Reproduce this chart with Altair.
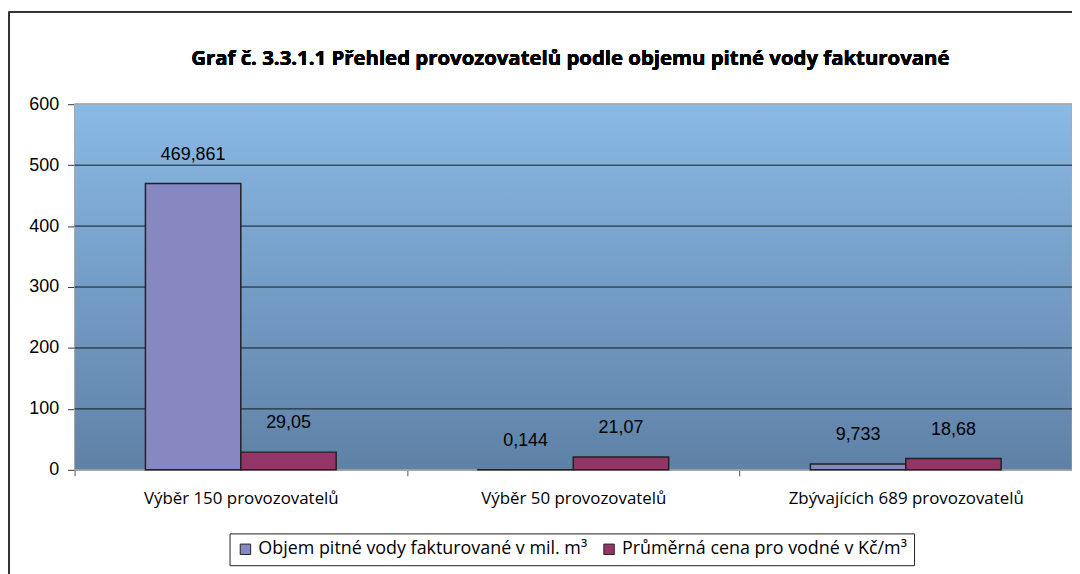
import altair as alt
import pandas as pd

title_text = "Graf č. 3.3.1.1 Přehled provozovatelů podle objemu pitné vody fakturované"
categories = ["Výběr 150 provozovatelů", "Výběr 50 provozovatelů", "Zbývajících 689 provozovatelů"]
series = ["Objem pitné vody fakturované v mil. m³", "Průměrná cena pro vodné v Kč/m³"]
volume = [469.861, 0.144, 9.733]
price = [29.05, 21.07, 18.68]
volume_labels = ["469,861", "0,144", "9,733"]
price_labels = ["29,05", "21,07", "18,68"]
grid_values = [100, 200, 300, 400, 500]
colors = ["#8787C2", "#943567"]

rows = []
for c, v, l in zip(categories, volume, volume_labels):
    rows.append({"cat": c, "series": series[0], "value": v, "label": l})
for c, v, l in zip(categories, price, price_labels):
    rows.append({"cat": c, "series": series[1], "value": v, "label": l})
df = pd.DataFrame(rows)
grid_df = pd.DataFrame({"g": grid_values})

W, H = 1004, 368

yscale = alt.Scale(domain=[0, 600], nice=False)
xenc = alt.X("cat:N", sort=categories, scale=alt.Scale(paddingInner=0, paddingOuter=0),
             axis=alt.Axis(title=None, labelAngle=0, tickBand="extent", tickSize=6,
                           tickColor="#555", domainColor="#888", labelPadding=15,
                           labelFont="Open Sans", labelFontSize=17, labelColor="#000",
                           labelLimit=400))
xoff = alt.XOffset("series:N", sort=series, scale=alt.Scale(paddingOuter=0.743, paddingInner=0))

bg = alt.Chart(df).mark_rect(
    fill=alt.LinearGradient(gradient="linear", x1=0, x2=0, y1=0, y2=1,
                            stops=[alt.GradientStop(offset=0, color="#89B9E6"),
                                   alt.GradientStop(offset=1, color="#5F81A6")]),
    stroke="#A8A8A8", strokeWidth=1
).encode(x=alt.value(0), x2=alt.value(W), y=alt.value(0), y2=alt.value(H))

grid = alt.Chart(grid_df).mark_rule(color="#1a1a1a", strokeWidth=1).encode(
    y=alt.Y("g:Q", scale=yscale,
            axis=alt.Axis(title=None, values=[0, 100, 200, 300, 400, 500, 600], grid=False,
                          domain=False, tickSize=7, tickColor="#333", labelPadding=9,
                          labelFont="Liberation Sans", labelFontSize=18, labelColor="#000"))
)

bars = alt.Chart(df).mark_bar(stroke="#222", strokeWidth=1.5).encode(
    x=xenc, xOffset=xoff,
    y=alt.Y("value:Q", scale=yscale),
    color=alt.Color("series:N", sort=series,
                    scale=alt.Scale(domain=series, range=colors),
                    legend=alt.Legend(title=None, orient="none", legendX=156, legendY=432,
                                      direction="horizontal", symbolType="square",
                                      symbolSize=110, symbolStrokeColor="#222",
                                      symbolStrokeWidth=1, labelFont="Open Sans",
                                      labelFontSize=18, labelColor="#000", labelLimit=500,
                                      strokeColor="#222", padding=7, columnPadding=12,
                                      fillColor="white")),
)

labels = alt.Chart(df).mark_text(font="Liberation Sans", fontSize=18, color="#000",
                                 baseline="alphabetic", dy=-24).encode(
    x=alt.X("cat:N", sort=categories), xOffset=alt.XOffset("series:N", sort=series),
    y=alt.Y("value:Q", scale=yscale), text="label:N"
)

title = alt.Chart(grid_df).mark_text(font="Open Sans", fontSize=20.5, fontWeight="bold",
                                     color="#000", baseline="middle").encode(
    x=alt.value(W / 2 - 3), y=alt.value(-45), text=alt.value(title_text))

border_left = alt.Chart(grid_df).mark_rule(color="#333", strokeWidth=1.5).encode(
    x=alt.value(-66), y=alt.value(-93), y2=alt.value(H + 120))
border_top = alt.Chart(grid_df).mark_rule(color="#333", strokeWidth=1.5).encode(
    x=alt.value(-66), x2=alt.value(W + 10), y=alt.value(-93))

chart = alt.layer(bg, grid, bars, labels, title, border_left, border_top).properties(
    width=W, height=H,
    autosize=alt.AutoSizeParams(type="none"),
    padding={"left": 67, "top": 95, "right": 0, "bottom": 103},
).configure_view(stroke=None).resolve_scale(y="shared")

chart.save("out.html", embed_options={"renderer": "svg", "actions": False})
